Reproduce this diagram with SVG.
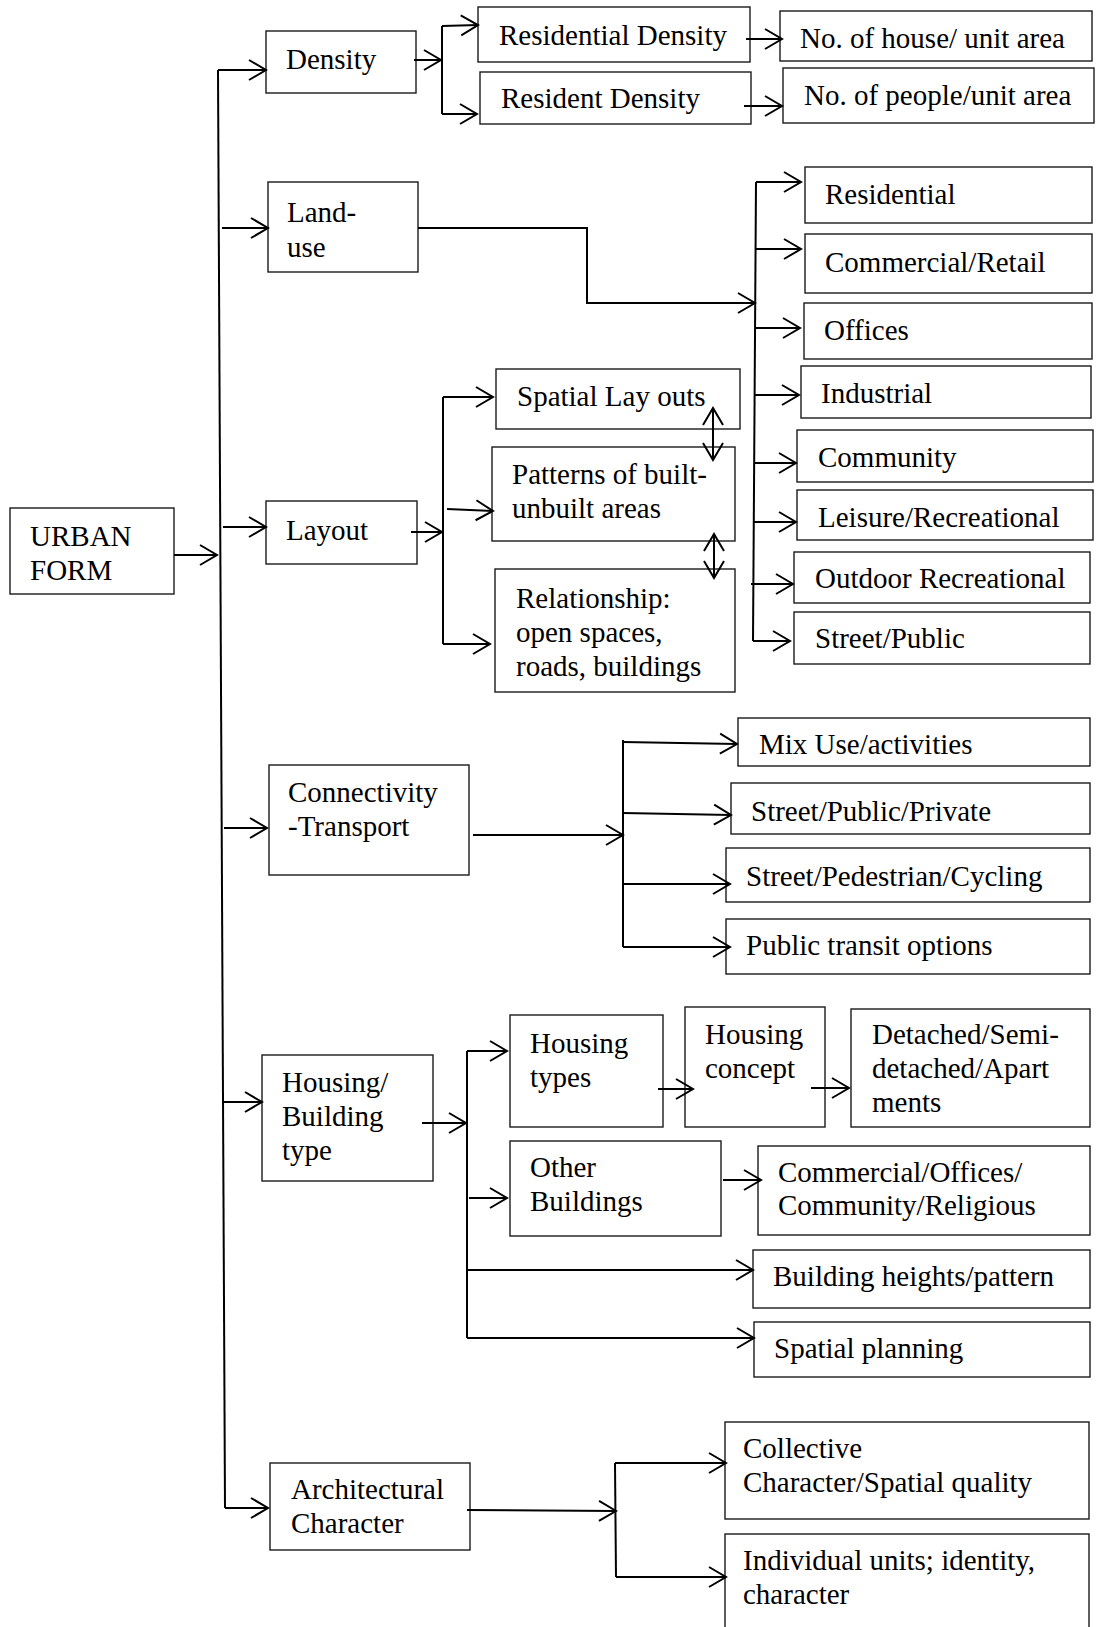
<svg xmlns="http://www.w3.org/2000/svg" width="1096" height="1627" viewBox="0 0 1096 1627">
  <style>
    .box { fill: #fff; stroke: #1a1a1a; stroke-width: 1.4; }
    .lbl { font-family: "Liberation Serif", "Times New Roman", serif; font-size: 29px; fill: #000; }
    .ln { fill: none; stroke: #000; stroke-width: 2; }
    .ar { fill: none; stroke: #000; stroke-width: 2; marker-end: url(#head); }
    .dbl { fill: none; stroke: #000; stroke-width: 2; marker-start: url(#head2); marker-end: url(#head); }
  </style>
  <defs>
    <marker id="head" viewBox="0 0 20 24" markerUnits="userSpaceOnUse" markerWidth="20" markerHeight="24" refX="18" refY="12" orient="auto">
      <path d="M1,2 L18,12 L1,22" fill="none" stroke="#000" stroke-width="2"/>
    </marker>
    <marker id="head2" viewBox="0 0 20 24" markerUnits="userSpaceOnUse" markerWidth="20" markerHeight="24" refX="18" refY="12" orient="auto-start-reverse">
      <path d="M1,2 L18,12 L1,22" fill="none" stroke="#000" stroke-width="2"/>
    </marker>
  </defs>
  <rect width="1096" height="1627" fill="#fff"/>

  <!-- root -->
  <g id="urban-form">
    <rect class="box" x="10" y="508" width="164" height="86"/>
    <text class="lbl" x="30" y="546">URBAN</text>
    <text class="lbl" x="30" y="580">FORM</text>
  </g>

  <!-- density -->
  <g id="density">
    <rect class="box" x="266" y="31" width="150" height="62"/>
    <text class="lbl" x="286" y="69">Density</text>
  </g>
  <g id="residential-density">
    <rect class="box" x="478" y="7" width="272" height="55"/>
    <text class="lbl" x="499" y="45">Residential Density</text>
  </g>
  <g id="resident-density">
    <rect class="box" x="480" y="72" width="271" height="52"/>
    <text class="lbl" x="501" y="108">Resident Density</text>
  </g>
  <g id="houses-per-area">
    <rect class="box" x="780" y="11" width="312" height="50"/>
    <text class="lbl" x="800" y="48">No. of house/ unit area</text>
  </g>
  <g id="people-per-area">
    <rect class="box" x="783" y="68" width="311" height="55"/>
    <text class="lbl" x="804" y="105">No. of people/unit area</text>
  </g>

  <!-- land-use -->
  <g id="land-use">
    <rect class="box" x="268" y="182" width="150" height="90"/>
    <text class="lbl" x="287" y="222">Land-</text>
    <text class="lbl" x="287" y="257">use</text>
  </g>
  <g id="lu-residential">
    <rect class="box" x="805" y="167" width="287" height="56"/>
    <text class="lbl" x="825" y="204">Residential</text>
  </g>
  <g id="lu-commercial">
    <rect class="box" x="805" y="234" width="287" height="59"/>
    <text class="lbl" x="825" y="272">Commercial/Retail</text>
  </g>
  <g id="lu-offices">
    <rect class="box" x="804" y="303" width="288" height="56"/>
    <text class="lbl" x="824" y="340">Offices</text>
  </g>
  <g id="lu-industrial">
    <rect class="box" x="801" y="366" width="290" height="52"/>
    <text class="lbl" x="821" y="403">Industrial</text>
  </g>
  <g id="lu-community">
    <rect class="box" x="797" y="430" width="296" height="52"/>
    <text class="lbl" x="818" y="467">Community</text>
  </g>
  <g id="lu-leisure">
    <rect class="box" x="797" y="490" width="296" height="50"/>
    <text class="lbl" x="818" y="527">Leisure/Recreational</text>
  </g>
  <g id="lu-outdoor">
    <rect class="box" x="794" y="552" width="296" height="51"/>
    <text class="lbl" x="815" y="588">Outdoor Recreational</text>
  </g>
  <g id="lu-street">
    <rect class="box" x="794" y="612" width="296" height="52"/>
    <text class="lbl" x="815" y="648">Street/Public</text>
  </g>

  <!-- layout -->
  <g id="layout">
    <rect class="box" x="266" y="501" width="151" height="63"/>
    <text class="lbl" x="286" y="540">Layout</text>
  </g>
  <g id="spatial-layouts">
    <rect class="box" x="496" y="369" width="244" height="60"/>
    <text class="lbl" x="517" y="406">Spatial Lay outs</text>
  </g>
  <g id="built-patterns">
    <rect class="box" x="492" y="447" width="243" height="94"/>
    <text class="lbl" x="512" y="484">Patterns of built-</text>
    <text class="lbl" x="512" y="518">unbuilt areas</text>
  </g>
  <g id="relationship">
    <rect class="box" x="495" y="569" width="240" height="123"/>
    <text class="lbl" x="516" y="608">Relationship:</text>
    <text class="lbl" x="516" y="642">open spaces,</text>
    <text class="lbl" x="516" y="676">roads, buildings</text>
  </g>

  <!-- connectivity -->
  <g id="connectivity">
    <rect class="box" x="269" y="765" width="200" height="110"/>
    <text class="lbl" x="288" y="802">Connectivity</text>
    <text class="lbl" x="288" y="836">-Transport</text>
  </g>
  <g id="mix-use">
    <rect class="box" x="738" y="718" width="352" height="48"/>
    <text class="lbl" x="759" y="754">Mix Use/activities</text>
  </g>
  <g id="street-public-private">
    <rect class="box" x="731" y="783" width="359" height="51"/>
    <text class="lbl" x="751" y="821">Street/Public/Private</text>
  </g>
  <g id="street-ped-cycling">
    <rect class="box" x="726" y="848" width="364" height="54"/>
    <text class="lbl" x="746" y="886">Street/Pedestrian/Cycling</text>
  </g>
  <g id="public-transit">
    <rect class="box" x="726" y="919" width="364" height="55"/>
    <text class="lbl" x="746" y="955">Public transit options</text>
  </g>

  <!-- housing / building type -->
  <g id="housing-building">
    <rect class="box" x="262" y="1055" width="171" height="126"/>
    <text class="lbl" x="282" y="1092">Housing/</text>
    <text class="lbl" x="282" y="1126">Building</text>
    <text class="lbl" x="282" y="1160">type</text>
  </g>
  <g id="housing-types">
    <rect class="box" x="510" y="1015" width="153" height="112"/>
    <text class="lbl" x="530" y="1053">Housing</text>
    <text class="lbl" x="530" y="1087">types</text>
  </g>
  <g id="housing-concept">
    <rect class="box" x="685" y="1007" width="140" height="120"/>
    <text class="lbl" x="705" y="1044">Housing</text>
    <text class="lbl" x="705" y="1078">concept</text>
  </g>
  <g id="dwelling-forms">
    <rect class="box" x="851" y="1009" width="239" height="118"/>
    <text class="lbl" x="872" y="1044">Detached/Semi-</text>
    <text class="lbl" x="872" y="1078">detached/Apart</text>
    <text class="lbl" x="872" y="1112">ments</text>
  </g>
  <g id="other-buildings">
    <rect class="box" x="510" y="1141" width="211" height="95"/>
    <text class="lbl" x="530" y="1177">Other</text>
    <text class="lbl" x="530" y="1211">Buildings</text>
  </g>
  <g id="non-residential">
    <rect class="box" x="758" y="1146" width="332" height="89"/>
    <text class="lbl" x="778" y="1182">Commercial/Offices/</text>
    <text class="lbl" x="778" y="1215">Community/Religious</text>
  </g>
  <g id="building-heights">
    <rect class="box" x="753" y="1250" width="337" height="58"/>
    <text class="lbl" x="773" y="1286">Building heights/pattern</text>
  </g>
  <g id="spatial-planning">
    <rect class="box" x="754" y="1322" width="336" height="55"/>
    <text class="lbl" x="774" y="1358">Spatial planning</text>
  </g>

  <!-- architectural character -->
  <g id="architectural-character">
    <rect class="box" x="270" y="1463" width="200" height="87"/>
    <text class="lbl" x="291" y="1499">Architectural</text>
    <text class="lbl" x="291" y="1533">Character</text>
  </g>
  <g id="collective-character">
    <rect class="box" x="725" y="1422" width="364" height="97"/>
    <text class="lbl" x="743" y="1458">Collective</text>
    <text class="lbl" x="743" y="1492">Character/Spatial quality</text>
  </g>
  <g id="individual-units">
    <rect class="box" x="725" y="1534" width="364" height="100"/>
    <text class="lbl" x="743" y="1570">Individual units; identity,</text>
    <text class="lbl" x="743" y="1604">character</text>
  </g>

  <!-- connectors, drawn over the boxes -->
  <g id="connectors">
    <!-- trunk from URBAN FORM -->
    <path class="ar" d="M174,555 L217,555"/>
    <path class="ln" d="M218,70 L225,1508"/>
    <path class="ar" d="M218,70 L266,70"/>
    <path class="ar" d="M222,228 L268,228"/>
    <path class="ar" d="M223,527 L266,527"/>
    <path class="ar" d="M224,828 L267,828"/>
    <path class="ar" d="M224,1102 L262,1102"/>
    <path class="ar" d="M225,1508 L268,1508"/>

    <!-- density branch -->
    <path class="ar" d="M414,60 L441,60"/>
    <path class="ln" d="M442,26 L442,114"/>
    <path class="ar" d="M442,26 L478,25"/>
    <path class="ar" d="M442,114 L477,114"/>
    <path class="ar" d="M746,39 L782,39"/>
    <path class="ar" d="M744,106 L782,106"/>

    <!-- land-use branch -->
    <path class="ar" d="M418,228 L587,228 L587,303 L755,303"/>
    <path class="ln" d="M756,182 L753,641"/>
    <path class="ar" d="M756,182 L801,182"/>
    <path class="ar" d="M756,249 L801,249"/>
    <path class="ar" d="M755,328 L800,328"/>
    <path class="ar" d="M755,395 L799,395"/>
    <path class="ar" d="M754,463 L796,463"/>
    <path class="ar" d="M754,522 L796,522"/>
    <path class="ar" d="M751,584 L793,584"/>
    <path class="ar" d="M753,641 L790,641"/>

    <!-- layout branch -->
    <path class="ar" d="M411,532 L442,532"/>
    <path class="ln" d="M443,397 L443,644"/>
    <path class="ar" d="M443,397 L493,397"/>
    <path class="ar" d="M447,509 L493,511"/>
    <path class="ar" d="M443,644 L490,644"/>
    <path class="dbl" d="M713,408 L713,460"/>
    <path class="dbl" d="M714,534 L714,578"/>

    <!-- connectivity branch -->
    <path class="ar" d="M473,835 L623,835"/>
    <path class="ln" d="M623,740 L623,947"/>
    <path class="ar" d="M623,742 L737,744"/>
    <path class="ar" d="M623,813 L731,815"/>
    <path class="ar" d="M622,884 L730,884"/>
    <path class="ar" d="M623,947 L730,947"/>

    <!-- housing branch -->
    <path class="ar" d="M422,1123 L466,1123"/>
    <path class="ln" d="M467,1051 L467,1338"/>
    <path class="ar" d="M467,1051 L507,1051"/>
    <path class="ar" d="M658,1089 L693,1089"/>
    <path class="ar" d="M811,1088 L849,1088"/>
    <path class="ar" d="M469,1198 L507,1198"/>
    <path class="ar" d="M723,1180 L761,1180"/>
    <path class="ar" d="M467,1270 L753,1270"/>
    <path class="ar" d="M467,1338 L754,1338"/>

    <!-- architectural branch -->
    <path class="ar" d="M467,1510 L616,1511"/>
    <path class="ln" d="M615,1463 L616,1577"/>
    <path class="ar" d="M615,1463 L726,1463"/>
    <path class="ar" d="M616,1577 L726,1577"/>
  </g>
</svg>
